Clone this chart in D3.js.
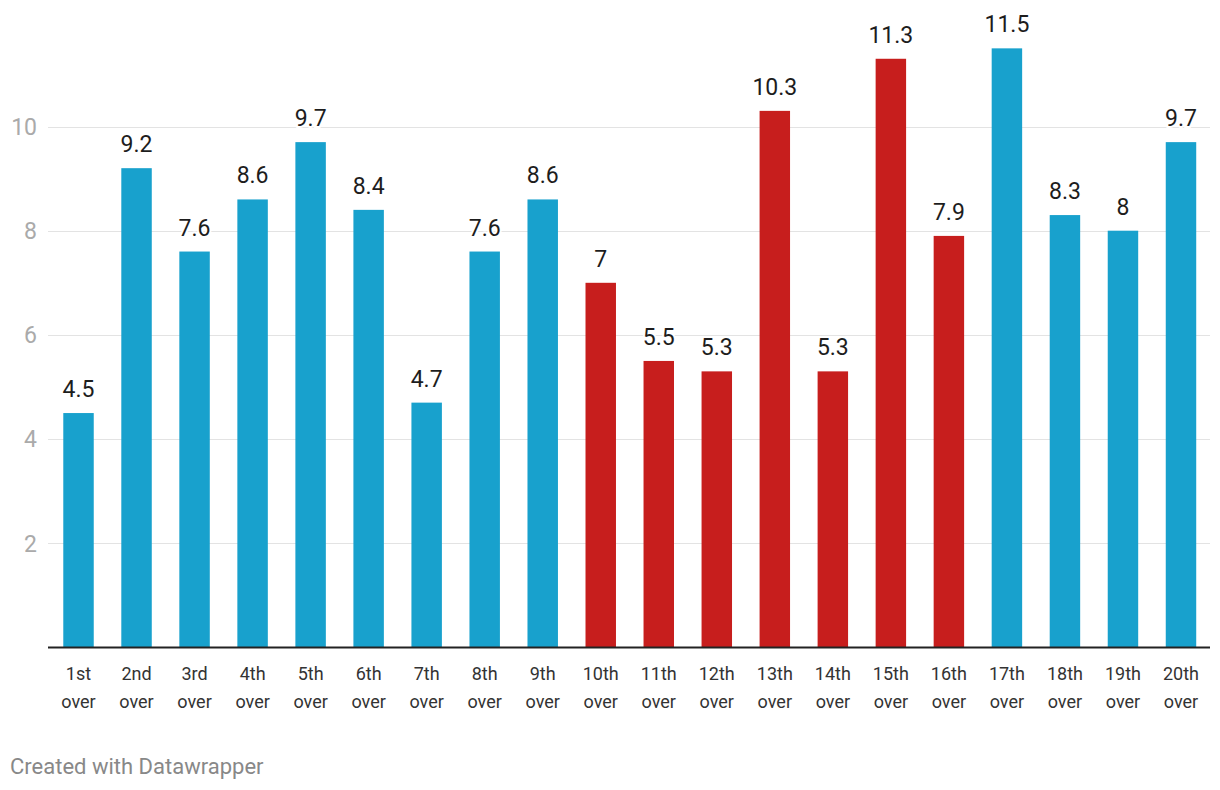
<!DOCTYPE html>
<html><head><meta charset="utf-8">
<script src="https://cdn.jsdelivr.net/npm/d3@7"></script>
<style>
body{margin:0;background:#fff;}
svg{display:block;font-family:Roboto,sans-serif;}
</style></head>
<body>
<svg id="chart" width="1220" height="790"></svg>
<script>
const categories = ["1st over","2nd over","3rd over","4th over","5th over","6th over","7th over","8th over","9th over","10th over","11th over","12th over","13th over","14th over","15th over","16th over","17th over","18th over","19th over","20th over"];
const values = [4.5,9.2,7.6,8.6,9.7,8.4,4.7,7.6,8.6,7,5.5,5.3,10.3,5.3,11.3,7.9,11.5,8.3,8,9.7];
const highlighted = [false,false,false,false,false,false,false,false,false,true,true,true,true,true,true,true,false,false,false,false];
const yTicks = [2,4,6,8,10];

const svg = d3.select("#chart");
const x = d3.scaleBand().domain(categories).range([49.5,1210]).paddingInner(0.475).paddingOuter(0.2375);
const y = d3.scaleLinear().domain([0,10]).range([647.5,126.5]);

// gridlines
svg.append("g").selectAll("line").data(yTicks).join("line")
  .attr("x1",48).attr("x2",1210)
  .attr("y1",d=>Math.round(y(d))+0.5).attr("y2",d=>Math.round(y(d))+0.5)
  .attr("stroke","#e3e3e3").attr("stroke-width",1);
svg.append("g").selectAll("text").data(yTicks).join("text")
  .attr("x",37).attr("y",d=>y(d)).attr("dy","0.36em")
  .attr("text-anchor","end").attr("fill","#aaaaaa").attr("font-size",23)
  .text(d=>d);

// bars
svg.append("g").selectAll("rect").data(values).join("rect")
  .attr("x",(d,i)=>x(categories[i])).attr("width",x.bandwidth())
  .attr("y",d=>y(d)).attr("height",d=>y(0)-y(d))
  .attr("fill",(d,i)=>highlighted[i]?"#c71e1d":"#18a1cd");

// baseline
svg.append("line").attr("x1",48).attr("x2",1210).attr("y1",y(0)).attr("y2",y(0))
  .attr("stroke","#222").attr("stroke-width",2);

// value labels
svg.append("g").selectAll("text").data(values).join("text")
  .attr("x",(d,i)=>x(categories[i])+x.bandwidth()/2).attr("y",d=>y(d)-16)
  .attr("text-anchor","middle").attr("font-size",23).attr("fill","#1d1d1d")
  .attr("stroke","#fff").attr("stroke-width",4).attr("paint-order","stroke")
  .text(d=>d);

// x labels
const xl = svg.append("g").selectAll("text").data(categories).join("text")
  .attr("x",d=>x(d)+x.bandwidth()/2).attr("y",680)
  .attr("text-anchor","middle").attr("font-size",18).attr("fill","#333");
xl.each(function(d){
  const parts=d.split(" ");
  const t=d3.select(this);
  parts.forEach((p,k)=>t.append("tspan").attr("x",x(d)+x.bandwidth()/2).attr("dy",k?28:0).text(p));
});

// footer
svg.append("text").attr("x",10).attr("y",774).attr("font-size",22).attr("fill","#888").text("Created with Datawrapper");
</script>
</body></html>
